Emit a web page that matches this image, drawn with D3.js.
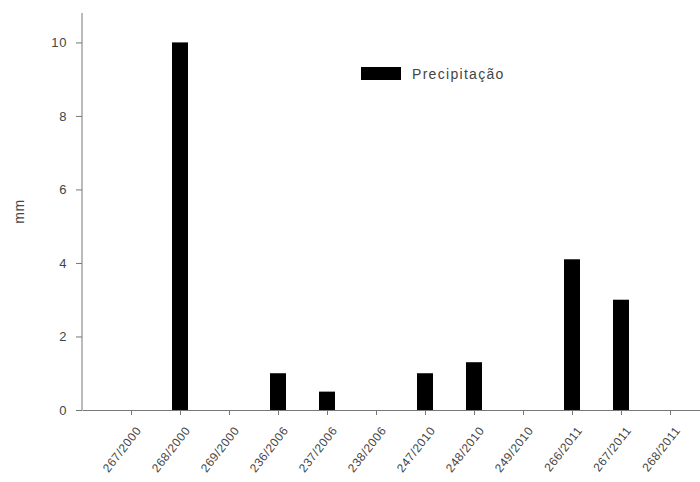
<!DOCTYPE html>
<html>
<head>
<meta charset="utf-8">
<script src="https://cdn.jsdelivr.net/npm/d3@7"></script>
<style>
  html, body { margin: 0; padding: 0; background: #fff; }
  svg { display: block; font-family: "Liberation Sans", Arial, sans-serif; }
</style>
</head>
<body>
<div id="chart"></div>
<script>
// Dados
const categories = [
  "267/2000", "268/2000", "269/2000",
  "236/2006", "237/2006", "238/2006",
  "247/2010", "248/2010", "249/2010",
  "266/2011", "267/2011", "268/2011"
];
const precipitacao = [0, 10, 0, 1.0, 0.5, 0, 1.0, 1.3, 0, 4.1, 3.0, 0];
const yTicks = [0, 2, 4, 6, 8, 10];
const seriesName = "Precipitação";
const yLabel = "mm";

const width = 700;
const height = 482;
const margin = { top: 13, left: 82, bottom: 72 };
const axisColor = "#777";
const textColor = "#444";

const svg = d3.select("#chart")
  .append("svg")
  .attr("width", width)
  .attr("height", height);

const x = d3.scalePoint()
  .domain(categories)
  .range([margin.left, margin.left + 13 * 49])
  .padding(1);

const y = d3.scaleLinear()
  .domain([0, 10.8])
  .range([height - margin.bottom, margin.top]);

// Barras
const barWidth = 16;
svg.append("g")
  .selectAll("rect")
  .data(categories.map((c, i) => ({ c, v: precipitacao[i] })).filter((d) => d.v > 0))
  .join("rect")
  .attr("x", (d) => x(d.c) - barWidth / 2)
  .attr("y", (d) => y(d.v))
  .attr("width", barWidth)
  .attr("height", (d) => y(0) - y(d.v))
  .attr("fill", "#000");

// Eixo Y
const yAxis = svg.append("g")
  .attr("transform", `translate(${margin.left},0)`)
  .call(d3.axisLeft(y).tickValues(yTicks).tickSize(6).tickPadding(9).tickFormat(d3.format("d")));
yAxis.select(".domain").attr("stroke", axisColor).attr("d", `M0,${y(0)}V${margin.top}`);
yAxis.selectAll(".tick line").attr("stroke", axisColor);
yAxis.selectAll(".tick text")
  .attr("fill", textColor)
  .attr("font-size", 13)
  .attr("letter-spacing", 0.6);

// Eixo X
const xAxis = svg.append("g")
  .attr("transform", `translate(0,${y(0)})`)
  .call(d3.axisBottom(x).tickSize(5).tickSizeOuter(0));
xAxis.select(".domain").attr("stroke", axisColor);
xAxis.selectAll(".tick line").attr("stroke", axisColor);
xAxis.selectAll(".tick text")
  .attr("fill", textColor)
  .attr("font-size", 12)
  .attr("letter-spacing", 0.5)
  .attr("text-anchor", "end")
  .attr("x", 0)
  .attr("y", 0)
  .attr("dy", "0.35em")
  .attr("transform", "translate(7,18) rotate(-52)");

// Rótulo do eixo Y
svg.append("text")
  .attr("transform", `translate(24,${(y(0) + margin.top) / 2}) rotate(-90)`)
  .attr("text-anchor", "middle")
  .attr("fill", textColor)
  .attr("font-size", 14)
  .attr("letter-spacing", 0.6)
  .text(yLabel);

// Legenda
const legend = svg.append("g").attr("transform", "translate(361,67)");
legend.append("rect")
  .attr("width", 40)
  .attr("height", 13)
  .attr("fill", "#000");
legend.append("text")
  .attr("x", 51)
  .attr("y", 12)
  .attr("fill", textColor)
  .attr("font-size", 14)
  .attr("letter-spacing", 1.3)
  .text(seriesName);
</script>
</body>
</html>
